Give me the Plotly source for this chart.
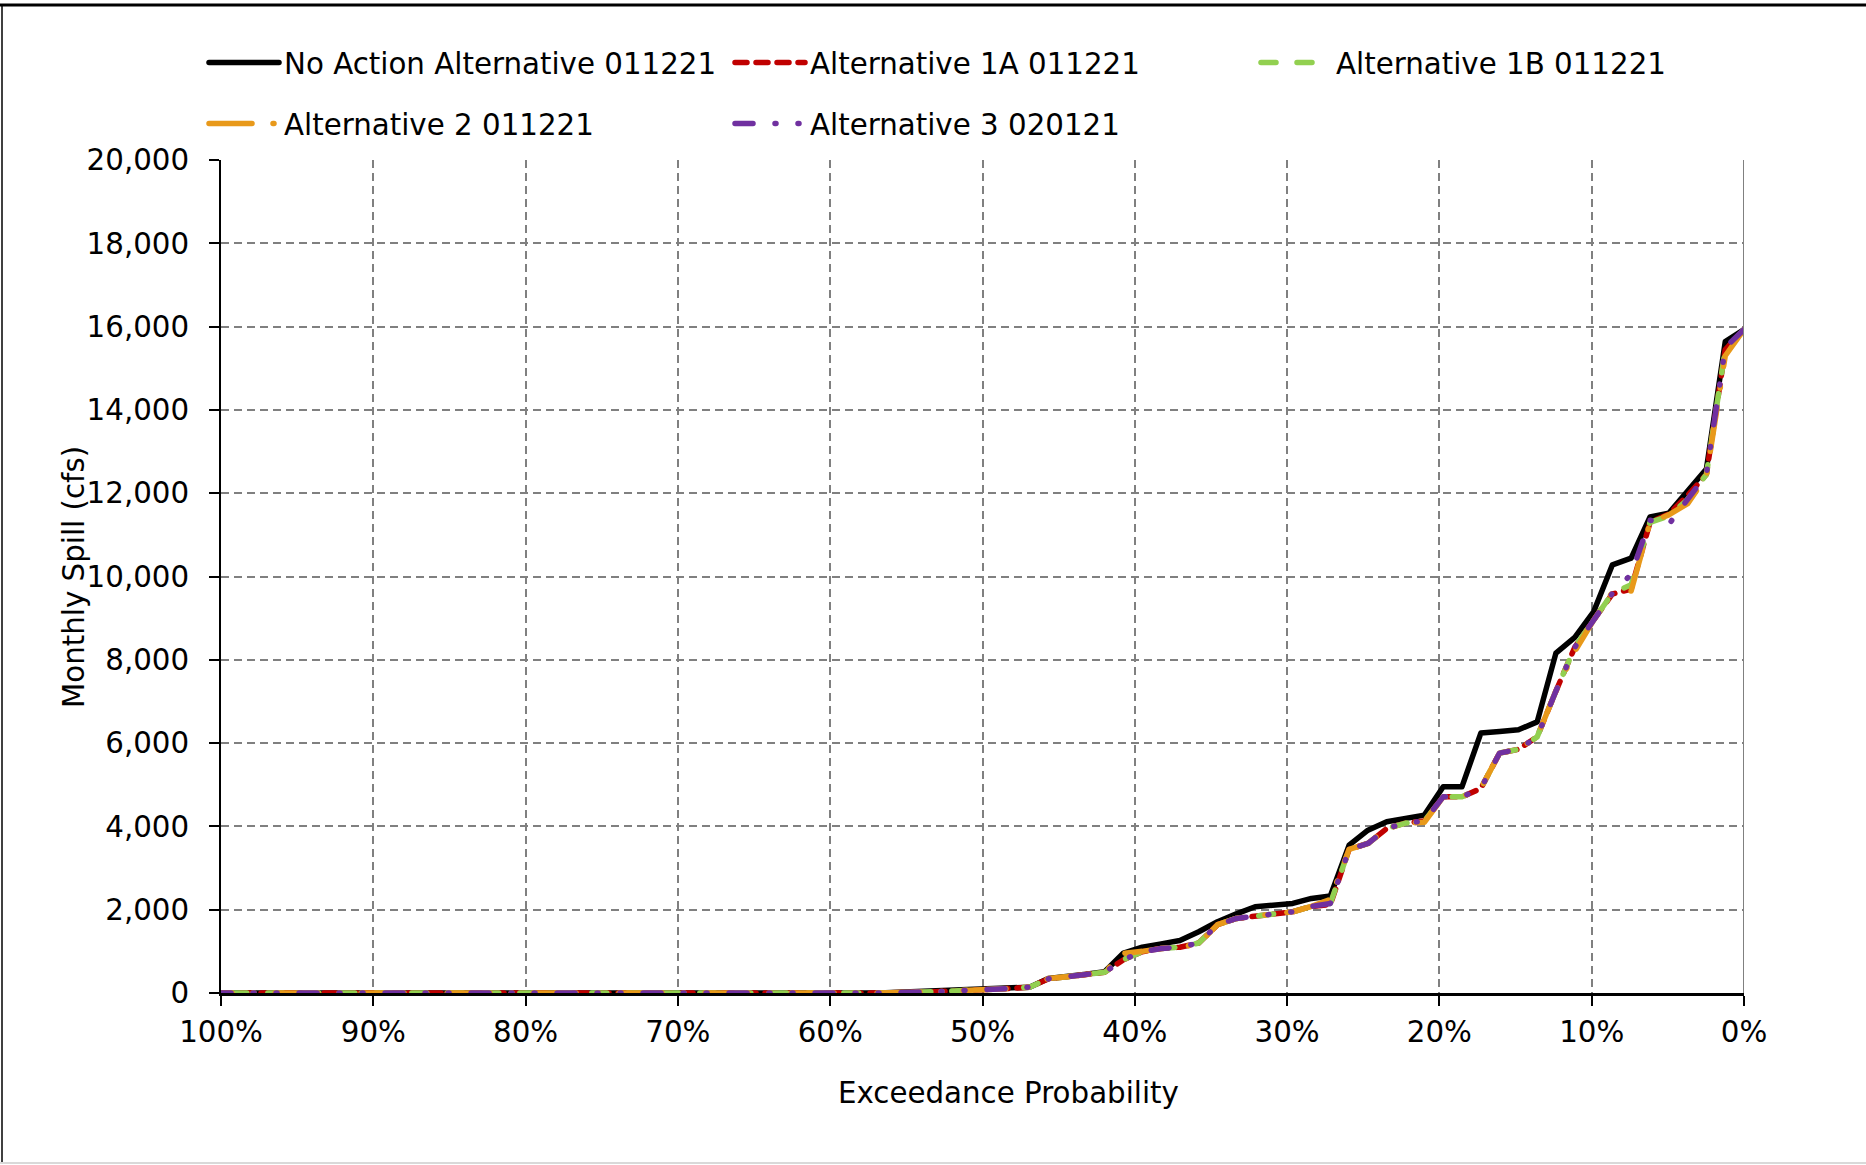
import plotly.graph_objects as go

# Exceedance probability (%) for the 82 sorted values
exceedance = [0.00, 1.23, 2.47, 3.70, 4.94, 6.17, 7.41, 8.64, 9.88, 11.11, 12.35, 13.58, 14.81, 16.05,
              17.28, 18.52, 19.75, 20.99, 22.22, 23.46, 24.69, 25.93, 27.16, 28.40, 29.63, 30.86, 32.10,
              33.33, 34.57, 35.80, 37.04, 38.27, 39.51, 40.74, 41.98, 43.21, 44.44, 45.68, 46.91, 48.15,
              49.38, 50.62, 51.85, 53.09, 54.32, 55.56, 56.79, 58.02, 59.26, 60.49, 61.73, 62.96, 64.20,
              65.43, 66.67, 67.90, 69.14, 70.37, 71.60, 72.84, 74.07, 75.31, 76.54, 77.78, 79.01, 80.25,
              81.48, 82.72, 83.95, 85.19, 86.42, 87.65, 88.89, 90.12, 91.36, 92.59, 93.83, 95.06, 96.30,
              97.53, 98.77, 100.00]

ZEROS_TAIL = [0, 0, 0, 0, 0, 0, 0, 0, 0, 0, 0, 0, 0, 0, 0, 0, 0, 0,
              0, 0, 0, 0, 0, 0, 0, 0, 0, 0, 0, 0, 0, 0, 0, 0, 0, 0]

no_action = [15930, 15640, 12580, 12050, 11520, 11430, 10440, 10280, 9150, 8540, 8160, 6510, 6320, 6280,
             6240, 4950, 4950, 4270, 4200, 4110, 3910, 3550, 2330, 2270, 2150, 2100, 2070, 1900, 1710,
             1470, 1260, 1180, 1100, 960, 510, 450, 390, 350, 140, 120, 110, 80, 50, 30, 15, 5] + ZEROS_TAIL

alt_1a = [15930, 15450, 12450, 11950, 11500, 11300, 9700, 9580, 8950, 8300, 7250, 6150, 5850, 5760,
          4910, 4710, 4710, 4130, 4080, 3950, 3590, 3450, 2120, 2080, 1950, 1900, 1850, 1790, 1640,
          1200, 1100, 1070, 990, 800, 500, 430, 390, 340, 140, 110, 100, 80, 50, 30, 10, 0] + ZEROS_TAIL

alt_1b = [15930, 15450, 12450, 11850, 11450, 11300, 9800, 9600, 8950, 8300, 7250, 6150, 5850, 5760,
          4910, 4710, 4710, 4130, 4080, 3950, 3590, 3450, 2150, 2080, 1950, 1900, 1850, 1790, 1640,
          1200, 1100, 1070, 990, 800, 500, 430, 390, 340, 140, 110, 100, 80, 50, 30, 10, 0] + ZEROS_TAIL

alt_2 = [15930, 15300, 12400, 11750, 11480, 11300, 9650, 9620, 8950, 8200, 7250, 6150, 5850, 5760,
         4910, 4710, 4710, 4100, 4070, 3950, 3590, 3450, 2250, 2080, 1950, 1900, 1850, 1790, 1640,
         1180, 1100, 1070, 1000, 950, 500, 430, 390, 350, 140, 110, 100, 80, 50, 30, 10, 0] + ZEROS_TAIL

alt_3 = [15930, 15500, 12450, 11850, 11250, 11350, 10050, 9600, 8950, 8300, 7250, 6150, 5850, 5760,
         4910, 4710, 4710, 4130, 4080, 3950, 3590, 3450, 2150, 2080, 1950, 1900, 1850, 1790, 1640,
         1200, 1100, 1070, 990, 800, 500, 430, 390, 340, 140, 110, 100, 80, 50, 30, 10, 0] + ZEROS_TAIL

series_names = ["No Action Alternative 011221", "Alternative 1A 011221", "Alternative 1B 011221",
                "Alternative 2 011221", "Alternative 3 020121"]
series_values = [no_action, alt_1a, alt_1b, alt_2, alt_3]
series_colors = ["#000000", "#C00000", "#92D050", "#E8991A", "#7030A0"]
series_dash = ["solid", "12px,9px", "15px,21px", "43px,21px,1px,21px", "18px,22px,1px,22px,1px,22px"]
series_legend = ["legend", "legend", "legend", "legend2", "legend2"]

x_ticks = [100, 90, 80, 70, 60, 50, 40, 30, 20, 10, 0]
y_ticks = [0, 2000, 4000, 6000, 8000, 10000, 12000, 14000, 16000, 18000, 20000]

W, H = 1866, 1165
FONT = "DejaVu Sans"
FS = 29.3

fig = go.Figure()
for name, vals, col, dash, lg in zip(series_names, series_values, series_colors, series_dash, series_legend):
    fig.add_trace(go.Scatter(x=exceedance, y=vals, mode="lines", name=name,
                             line=dict(color=col, width=5.5, dash=dash), legend=lg))

L, R, T, B = 221, 1744, 160, 993
grid = dict(showgrid=True, gridcolor="#808080", gridwidth=1.5, griddash="8px,5px")
legend_common = dict(orientation="h", x=204 / W, xanchor="left", yanchor="middle",
                     entrywidth=441, entrywidthmode="pixels", font=dict(size=FS), itemwidth=70,
                     bgcolor="rgba(0,0,0,0)", borderwidth=0)
fig.update_layout(
    width=W, height=H, autosize=False,
    margin=dict(l=0, r=0, t=0, b=0, pad=0, autoexpand=False),
    paper_bgcolor="white", plot_bgcolor="white",
    font=dict(family=FONT, size=FS, color="black"),
    xaxis=dict(domain=[L / W, R / W], range=[100, 0], tickvals=x_ticks, automargin=False,
               ticktext=[f"{v}%" for v in x_ticks], ticks="outside", ticklen=10, tickwidth=2,
               tickcolor="black", showline=True, linecolor="black", linewidth=2.5, zeroline=False,
               ticklabelstandoff=1, **grid),
    yaxis=dict(domain=[1 - B / H, 1 - T / H], range=[0, 20000], tickvals=y_ticks, automargin=False,
               tickformat=",d", ticks="outside", ticklen=10, tickwidth=2, tickcolor="black",
               showline=True, linecolor="black", linewidth=2, zeroline=False,
               ticklabelstandoff=14, **grid),
    showlegend=True,
    legend=dict(y=1 - 63 / H, **legend_common),
    legend2=dict(y=1 - 124 / H, **legend_common),
    annotations=[
        dict(text="Exceedance Probability", x=1009 / W, y=1 - 1093 / H, xref="paper", yref="paper",
             showarrow=False, xanchor="center", yanchor="middle", font=dict(size=FS)),
        dict(text="Monthly Spill (cfs)", x=74 / W, y=1 - 577 / H, xref="paper", yref="paper",
             showarrow=False, xanchor="center", yanchor="middle", textangle=-90, font=dict(size=FS)),
    ],
    shapes=[
        dict(type="line", xref="x", yref="y", x0=0, x1=0, y0=0, y1=20000,
             line=dict(color="#808080", width=2)),
        dict(type="line", xref="paper", yref="paper", x0=0, x1=1, y0=1 - 5 / H, y1=1 - 5 / H,
             line=dict(color="black", width=3)),
        dict(type="line", xref="paper", yref="paper", x0=2 / W, x1=2 / W, y0=1 - 5 / H, y1=1 - 1163 / H,
             line=dict(color="black", width=1.5)),
        dict(type="line", xref="paper", yref="paper", x0=0, x1=1, y0=1 - 1163 / H, y1=1 - 1163 / H,
             line=dict(color="#D9D9D9", width=2)),
    ],
)

post = (
    "document.body.style.margin='0';"
    "document.querySelectorAll('path.js-line').forEach(function(p){"
    "p.style.strokeLinecap='round'; p.style.strokeLinejoin='round';});"
)
fig.write_html("out.html", config={"displayModeBar": False}, post_script=post)
